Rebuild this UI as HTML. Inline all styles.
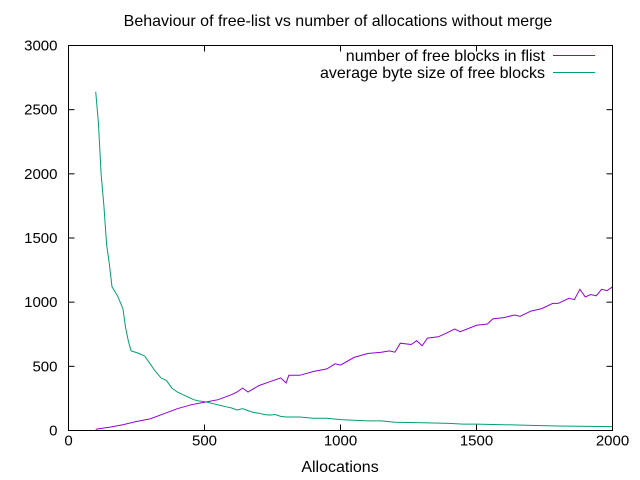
<!DOCTYPE html>
<html><head><meta charset="utf-8"><style>
body{margin:0;background:#fff;}
svg{display:block;font-family:"Liberation Sans",sans-serif;}
</style></head><body>
<svg id="chart" width="640" height="480" viewBox="0 0 640 480" xmlns="http://www.w3.org/2000/svg">
<text x="338" y="26" font-size="16" text-anchor="middle">Behaviour of free-list vs number of allocations without merge</text>
<g id="axes"></g>
<g id="series"></g>
<rect x="68.5" y="45.5" width="544" height="385" fill="none" stroke="#000" stroke-width="1"/>
<text x="340" y="472" font-size="16" text-anchor="middle">Allocations</text>
<g>
<text x="545" y="61" font-size="16" text-anchor="end">number of free blocks in flist</text>
<line x1="553" y1="55.5" x2="595" y2="55.5" stroke="#9400d3" stroke-width="1"/>
<text x="545" y="78" font-size="16" text-anchor="end">average byte size of free blocks</text>
<line x1="553" y1="72.5" x2="595" y2="72.5" stroke="#009e73" stroke-width="1"/>
</g>
</svg>
<script>
const xTicks=[0,500,1000,1500,2000];
const yTicks=[0,500,1000,1500,2000,2500,3000];
const avgX=[100,110,120,130,140,150,160,180,200,210,220,230,260,280,300,320,340,360,380,400,420,440,460,480,500,520,540,560,580,600,620,640,660,680,700,720,740,760,780,800,850,900,950,1000,1050,1100,1150,1200,1300,1400,1450,1500,1600,1700,1800,2000];
const avgY=[2640,2400,2000,1750,1450,1300,1120,1050,950,800,700,620,600,580,520,460,410,390,330,300,280,260,240,230,225,215,205,195,185,175,160,170,155,140,135,125,120,125,110,105,105,95,95,85,80,75,75,65,60,55,50,50,45,40,35,30];
const cntX=[100,150,200,250,300,350,400,450,500,550,600,620,640,660,700,740,780,800,810,850,900,950,980,1000,1050,1100,1150,1180,1200,1220,1260,1280,1300,1320,1360,1400,1420,1440,1500,1540,1560,1600,1640,1660,1700,1740,1780,1800,1840,1860,1880,1900,1920,1940,1960,1980,2000];
const cntY=[10,25,45,70,90,130,170,200,220,240,280,300,330,300,350,380,410,370,430,430,460,480,520,510,570,600,610,620,610,680,670,700,660,720,730,770,790,770,820,830,870,880,900,890,930,950,990,990,1030,1020,1100,1040,1060,1050,1100,1090,1120];
const X0=68.5,X1=612.5,Y0=430.5,Y1=45.5;
function sx(v){return X0+(v-0)/(2000-0)*(X1-X0);}
function sy(v){return Y0-(v-0)/(3000-0)*(Y0-Y1);}
const NS="http://www.w3.org/2000/svg";
const axes=document.getElementById('axes');
function mk(tag,attrs,parent){const e=document.createElementNS(NS,tag);for(const k in attrs)e.setAttribute(k,attrs[k]);parent.appendChild(e);return e;}
xTicks.forEach(t=>{
 const x=sx(t);
 const a=mk('line',{x1:x,y1:Y0,x2:x,y2:Y0-6,stroke:'#000'},axes);
 
 
 const b=mk('line',{x1:x,y1:Y1,x2:x,y2:Y1+6,stroke:'#000'},axes);
 
 
 const l=mk('text',{x:x,y:Y0+15,'font-size':15,'text-anchor':'middle'},axes);
 l.textContent=t;
 
 
});
yTicks.forEach(t=>{
 const y=sy(t);
 const a=mk('line',{x1:X0,y1:y,x2:X0+6,y2:y,stroke:'#000'},axes);
 
 
 const b=mk('line',{x1:X1,y1:y,x2:X1-6,y2:y,stroke:'#000'},axes);
 
 
 const l=mk('text',{x:X0-11,y:y+5,'font-size':15,'text-anchor':'end'},axes);
 l.textContent=t;
 
 
});
const ser=document.getElementById('series');
function pts(xs,ys){return xs.map((v,i)=>sx(v).toFixed(1)+','+sy(ys[i]).toFixed(1)).join(' ');}
const p1=mk('polyline',{points:pts(cntX,cntY),fill:'none',stroke:'#9400d3','stroke-width':1},ser);


const p2=mk('polyline',{points:pts(avgX,avgY),fill:'none',stroke:'#009e73','stroke-width':1},ser);


</script>
</body></html>
